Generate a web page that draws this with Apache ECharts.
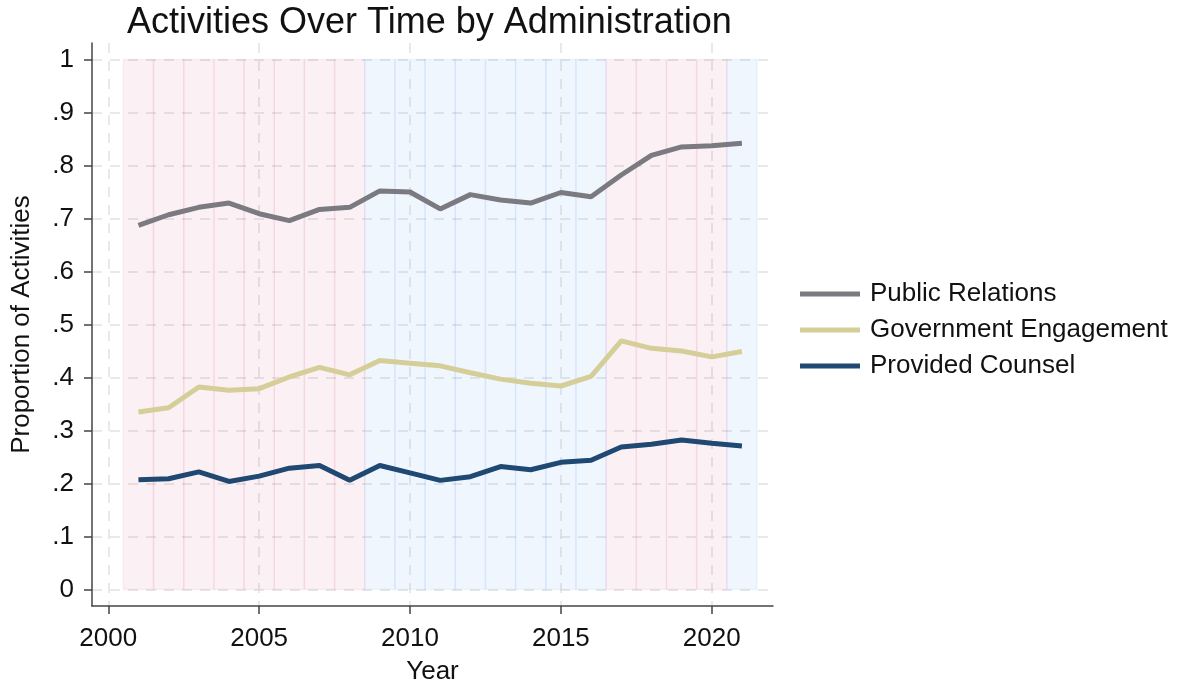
<!DOCTYPE html>
<html>
<head>
<meta charset="utf-8">
<script src="https://cdn.jsdelivr.net/npm/echarts@6/dist/echarts.min.js"></script>
<style>
  html, body { margin: 0; padding: 0; background: #fff; }
  #chart { width: 1181px; height: 690px; }
</style>
</head>
<body>
<div id="chart"></div>
<script>
// data
const years = [2001, 2002, 2003, 2004, 2005, 2006, 2007, 2008, 2009, 2010, 2011,
  2012, 2013, 2014, 2015, 2016, 2017, 2018, 2019, 2020, 2021]
const admin = ['R', 'R', 'R', 'R', 'R', 'R', 'R', 'R', 'D', 'D', 'D',
  'D', 'D', 'D', 'D', 'D', 'R', 'R', 'R', 'R', 'D']
const publicRelations = [0.687, 0.707, 0.721, 0.729, 0.709, 0.696, 0.717, 0.721, 0.752, 0.750, 0.718,
  0.745, 0.735, 0.729, 0.749, 0.741, 0.782, 0.819, 0.835, 0.837, 0.842]
const governmentEngagement = [0.335, 0.343, 0.382, 0.376, 0.379, 0.401, 0.419, 0.405, 0.432, 0.427, 0.422,
  0.409, 0.397, 0.389, 0.384, 0.402, 0.469, 0.455, 0.450, 0.439, 0.449]
const providedCounsel = [0.207, 0.209, 0.222, 0.204, 0.214, 0.229, 0.234, 0.206, 0.234, 0.220, 0.206,
  0.213, 0.232, 0.226, 0.240, 0.244, 0.269, 0.274, 0.282, 0.276, 0.271]
const xTicks = [2000, 2005, 2010, 2015, 2020]
const yTicks = [0, 0.1, 0.2, 0.3, 0.4, 0.5, 0.6, 0.7, 0.8, 0.9, 1]
const bandTop = 1

const FONT = "'Liberation Sans', Arial, sans-serif"
const bandColors = {
  R: { fill: 'rgba(200, 60, 110, 0.08)', stroke: 'rgba(200, 40, 90, 0.06)' },
  D: { fill: 'rgba(40, 130, 240, 0.075)', stroke: 'rgba(20, 110, 230, 0.06)' }
}

function formatTick(v) {
  if (v === 0) return '0'
  if (v === 1) return '1'
  return String(Math.round(v * 10) / 10).replace(/^0/, '')
}

const axisLine = { show: true, onZero: false, lineStyle: { color: '#444', width: 1.5 } }
const gridLine = { show: true, lineStyle: { color: '#e2e2e2', width: 1.5, type: [10, 8] } }

function lineSeries(name, data, color) {
  return {
    name,
    type: 'line',
    data: years.map((y, i) => [y, data[i]]),
    showSymbol: false,
    symbol: 'none',
    lineStyle: { width: 5, color },
    itemStyle: { color },
    z: 3
  }
}

const chart = echarts.init(document.getElementById('chart'), null, { renderer: 'canvas' })

chart.setOption({
  animation: false,
  title: {
    text: 'Activities Over Time by Administration',
    left: 122,
    top: 0,
    textStyle: { fontFamily: FONT, fontSize: 36, fontWeight: 'normal', color: '#111' }
  },
  grid: { left: 92, right: 408, top: 43, bottom: 78.5, containLabel: false },
  legend: {
    orient: 'vertical',
    left: 795,
    top: 274,
    itemWidth: 60,
    itemHeight: 5,
    itemGap: 6,
    icon: 'rect',
    data: ['Public Relations', 'Government Engagement', 'Provided Counsel'],
    textStyle: { fontFamily: FONT, fontSize: 26, color: '#111', lineHeight: 30, padding: [0, 0, 0, 5] }
  },
  xAxis: {
    type: 'value',
    min: 1999.46,
    max: 2022.03,
    name: 'Year',
    nameLocation: 'middle',
    nameGap: 53,
    nameTextStyle: { fontFamily: FONT, fontSize: 26, color: '#111' },
    axisLine,
    axisTick: { show: true, length: 8, customValues: xTicks, lineStyle: { color: '#444', width: 1.5 } },
    axisLabel: { customValues: xTicks, margin: 20, fontFamily: FONT, fontSize: 26, color: '#111', formatter: (v) => String(v) },
    splitLine: gridLine
  },
  yAxis: {
    type: 'value',
    min: -0.031,
    max: 1.031,
    name: 'Proportion of Activities',
    nameLocation: 'middle',
    nameGap: 57,
    nameTextStyle: { fontFamily: FONT, fontSize: 26, color: '#111' },
    axisLine,
    axisTick: { show: true, length: 8, customValues: yTicks, lineStyle: { color: '#444', width: 1.5 } },
    axisLabel: { customValues: yTicks, margin: 18, fontFamily: FONT, fontSize: 26, color: '#111', formatter: formatTick },
    splitLine: gridLine
  },
  series: [
    {
      name: 'Administration',
      type: 'custom',
      data: years.map((y, i) => [y, admin[i], bandTop]),
      silent: true,
      z: 1,
      renderItem(params, api) {
        const year = api.value(0)
        const party = admin[params.dataIndex]
        const topLeft = api.coord([year - 0.5, api.value(2)])
        const bottomRight = api.coord([year + 0.5, 0])
        return {
          type: 'rect',
          shape: {
            x: topLeft[0],
            y: topLeft[1],
            width: bottomRight[0] - topLeft[0],
            height: bottomRight[1] - topLeft[1]
          },
          style: {
            fill: bandColors[party].fill,
            stroke: bandColors[party].stroke,
            lineWidth: 1.5
          }
        }
      }
    },
    lineSeries('Public Relations', publicRelations, '#7a7a80'),
    lineSeries('Government Engagement', governmentEngagement, '#d6ce98'),
    lineSeries('Provided Counsel', providedCounsel, '#1f4873')
  ]
})
</script>
</body>
</html>
